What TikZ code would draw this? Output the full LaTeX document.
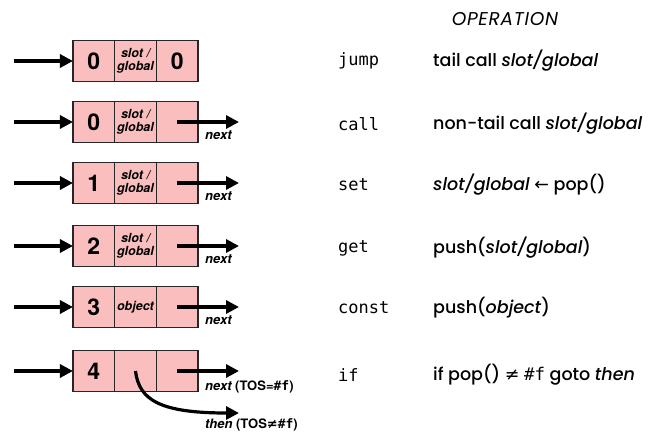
\documentclass[tikz,border=0pt]{standalone}
\usepackage{fontspec}
\setmainfont{Poppins}[UprightFont=* Medium, ItalicFont=* Medium Italic]
\newfontfamily\hv{TeX Gyre Heros}
\newfontfamily\dv{DejaVu Sans}
\newfontfamily\opfont{Poppins}[ItalicFont=* Italic, LetterSpace=4]
\setmonofont{DejaVu Sans Mono}
\usetikzlibrary{arrows.meta}
\definecolor{boxpink}{RGB}{250,190,190}
\tikzset{
  cell/.style={draw=black!85, line width=1.5pt, fill=boxpink, minimum width=41.7pt, minimum height=41pt, inner sep=0pt, outer sep=0pt, font=\hv\bfseries\fontsize{23}{23}\selectfont},
  small/.style={font=\hv\bfseries\itshape\fontsize{12.5}{13}\selectfont, align=center},
  arr/.style={line width=3.2pt, -{Triangle[length=13pt,width=13pt]}},
  lbl/.style={anchor=west, inner sep=0pt, font=\hv\bfseries\fontsize{13}{13}\selectfont},
  code/.style={anchor=west, inner sep=0pt, font=\ttfamily\fontsize{17}{17}\selectfont},
  op/.style={anchor=west, inner sep=0pt, font=\fontsize{17.5}{18}\selectfont},
}
\begin{document}
\begin{tikzpicture}[x=1pt,y=-1pt]
\useasboundingbox (0,0) rectangle (650,433);
\node[anchor=center, inner sep=0pt, font=\opfont\itshape\fontsize{18.5}{19}\selectfont] (head) at (505,19) {OPERATION};
% row 1
\foreach \n/\y/\d/\m/\r in {1/61/0/{slot /\\global}/0}{
  \node[cell] (r\n a) at (93.8,\y) {\d};
  \node[cell] (r\n b) at (135.5,\y) {};
  \node[cell] (r\n c) at (177.2,\y) {\r};
  \node[small] (m\n) at (r\n b) {\m};
  \coordinate (in\n) at (14,\y);
  \draw[arr] (in\n) -- (r\n a.west);
}
\foreach \n/\y/\d/\m in {2/122/0/{slot /\\global}, 3/183/1/{slot /\\global}, 4/246/2/{slot /\\global}, 5/307/3/{object}, 6/371/4/{}}{
  \node[cell] (r\n a) at (93.8,\y) {\d};
  \node[cell] (r\n b) at (135.5,\y) {};
  \node[cell] (r\n c) at (177.2,\y) {};
  \node[small] (m\n) at (r\n b) {\m};
  \coordinate (in\n) at (14,\y);
  \coordinate (nx\n) at (239,\y);
  \draw[arr] (in\n) -- (r\n a.west);
  \draw[arr] (r\n c.center) -- (nx\n);
}
\foreach \n/\y in {2/135,3/196,4/259,5/320}{
  \node[lbl] (nl\n) at (205,\y) {\itshape next};
}
\node[lbl] (nl6) at (205,387) {\itshape next\upshape{} (TOS=\texttt{\#f})};
\coordinate (th) at (239,413);
\draw[arr] (r6b.center) .. controls (139,400) and (160,413) .. (th);
\node[lbl] (tl6) at (205,425) {\itshape then\upshape{} (TOS{\dv ≠}\texttt{\#f})};
% right side
\node[code] (c1) at (338,61) {jump};
\node[code] (c2) at (338,124) {call};
\node[code] (c3) at (338,185) {set};
\node[code] (c4) at (338,248) {get};
\node[code] (c5) at (338,308) {const};
\node[code] (c6) at (338,375) {if};
\node[op] (o1) at (433,61) {tail call \textit{slot/global}};
\node[op] (o2) at (433,124) {non-tail call \textit{slot/global}};
\node[op] (o3) at (433,185) {\textit{slot/global} {\dv ←} pop()};
\node[op] (o4) at (433,248) {push(\textit{slot/global})};
\node[op] (o5) at (433,308) {push(\textit{object})};
\node[op] (o6) at (433,375) {if pop() {\dv ≠} \texttt{\#f} goto \textit{then}};
\end{tikzpicture}
\end{document}
